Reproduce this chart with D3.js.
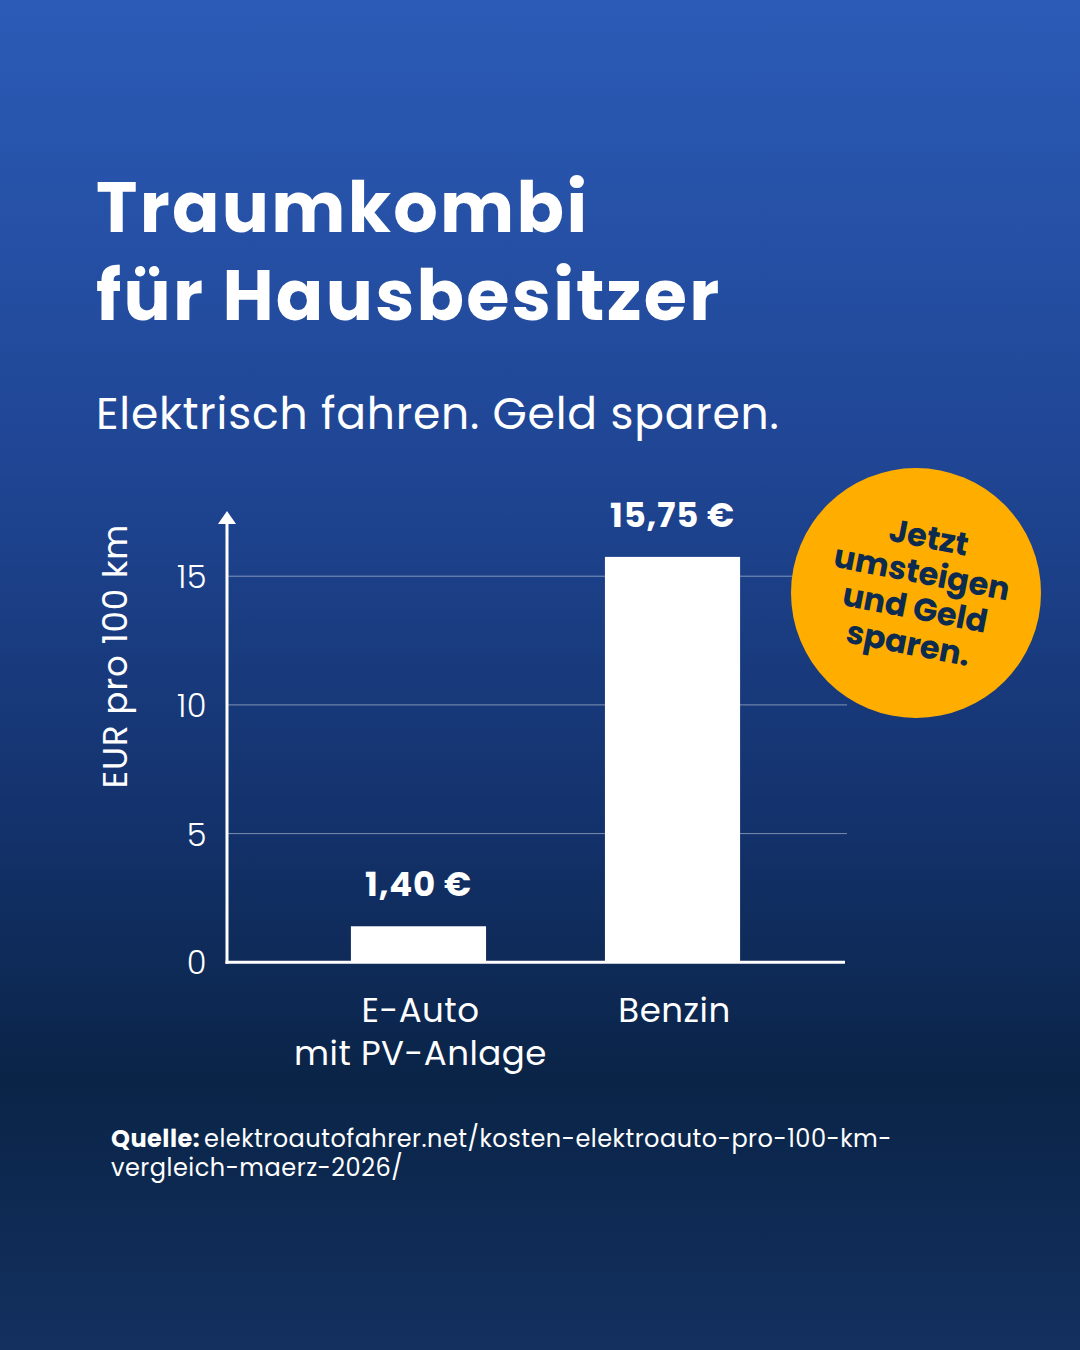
<!DOCTYPE html>
<html>
<head>
<meta charset="utf-8">
<script src="https://cdn.jsdelivr.net/npm/d3@7"></script>
<style>
  html, body { margin: 0; padding: 0; background: #0b2648; }
  svg { display: block; }
</style>
</head>
<body>
<svg id="chart" width="1080" height="1350"></svg>
<script>
// ---- data ----
const categories = ["E-Auto\nmit PV-Anlage", "Benzin"];
const values = [1.40, 15.75];
const valueLabels = ["1,40 €", "15,75 €"];
const yTicks = [0, 5, 10, 15];
const titleLines = ["Traumkombi", "für Hausbesitzer"];
const subtitle = "Elektrisch fahren. Geld sparen.";
const yAxisTitle = "EUR pro 100 km";
const badgeLines = ["Jetzt", "umsteigen", "und Geld", "sparen."];
const sourceBold = "Quelle:";
const sourceLines = ["elektroautofahrer.net/kosten-elektroauto-pro-100-km-", "vergleich-maerz-2026/"];

const FONT = "Poppins, Inter, 'Open Sans', sans-serif";
const W = 1080, H = 1350;
const svg = d3.select("#chart");

// background gradient
const defs = svg.append("defs");
const grad = defs.append("linearGradient").attr("id", "bg").attr("x1", 0).attr("y1", 0).attr("x2", 0).attr("y2", 1);
[[0, "#2b5bb7"], [0.35, "#1f4593"], [0.62, "#13316a"], [0.8, "#0a2447"], [1, "#13305f"]]
  .forEach(([o, c]) => grad.append("stop").attr("offset", o).attr("stop-color", c));
svg.append("rect").attr("width", W).attr("height", H).attr("fill", "url(#bg)");

// title
svg.append("g").selectAll("text").data(titleLines).join("text")
  .attr("x", 96).attr("y", (d, i) => 232 + i * 88)
  .attr("fill", "#fff").attr("font-family", FONT).attr("font-weight", 700)
  .attr("font-size", 70).attr("letter-spacing", 2.3)
  .text(d => d);

svg.append("text").attr("x", 96).attr("y", 429)
  .attr("fill", "#fff").attr("font-family", FONT).attr("font-weight", 400)
  .attr("font-size", 44).attr("letter-spacing", 0.8)
  .text(subtitle);

// scales
const y = d3.scaleLinear().domain([0, 17.3]).range([962.3, 517]);
const x = d3.scaleBand().domain(categories).range([246, 845]).paddingInner(0.468).paddingOuter(0.413);
const axisX0 = 227, axisX1 = 845;

// gridlines
svg.append("g").selectAll("line").data(yTicks.filter(t => t > 0)).join("line")
  .attr("x1", axisX0).attr("x2", 847)
  .attr("y1", d => y(d)).attr("y2", d => y(d))
  .attr("stroke", "rgba(255,255,255,0.45)").attr("stroke-width", 1);

// y axis via d3.axisLeft (tick labels only)
const yAxis = svg.append("g").attr("transform", `translate(${axisX0},0)`)
  .call(d3.axisLeft(y).tickValues(yTicks).tickSize(0).tickPadding(20).tickFormat(d3.format("d")));
yAxis.select(".domain").remove();
yAxis.selectAll("text").attr("fill", "#fff").attr("font-family", FONT).attr("font-weight", 300)
  .attr("font-size", 32).attr("letter-spacing", 0.5).attr("dy", "0.36em");

// bars
svg.append("g").selectAll("rect").data(values).join("rect")
  .attr("x", (d, i) => x(categories[i]))
  .attr("width", x.bandwidth())
  .attr("y", d => y(d))
  .attr("height", d => y(0) - y(d))
  .attr("fill", "#fff");

// value labels
svg.append("g").selectAll("text").data(values).join("text")
  .attr("x", (d, i) => x(categories[i]) + x.bandwidth() / 2)
  .attr("y", d => y(d) - 30)
  .attr("text-anchor", "middle")
  .attr("fill", "#fff").attr("font-family", FONT).attr("font-weight", 700).attr("font-size", 34)
  .attr("letter-spacing", 0.8)
  .text((d, i) => valueLabels[i]);

// axes lines
svg.append("line").attr("x1", axisX0).attr("x2", axisX0).attr("y1", y(0) + 1.5).attr("y2", 522)
  .attr("stroke", "#fff").attr("stroke-width", 3);
svg.append("line").attr("x1", axisX0 - 1.5).attr("x2", axisX1).attr("y1", y(0)).attr("y2", y(0))
  .attr("stroke", "#fff").attr("stroke-width", 3);
svg.append("path").attr("d", `M${axisX0},511 L${axisX0 - 9},524 L${axisX0 + 9},524 Z`).attr("fill", "#fff");

// category labels
const catG = svg.append("g");
categories.forEach(c => {
  const cx = x(c) + x.bandwidth() / 2 + 2;
  c.split("\n").forEach((line, i) => {
    catG.append("text")
      .attr("x", cx).attr("y", 1022 + i * 43)
      .attr("text-anchor", "middle")
      .attr("fill", "#fff").attr("font-family", FONT).attr("font-weight", 400).attr("font-size", 34)
      .attr("letter-spacing", 0.5)
      .text(line);
  });
});

// y axis title
svg.append("text")
  .attr("transform", `translate(127,656) rotate(-90)`)
  .attr("text-anchor", "middle")
  .attr("fill", "#fff").attr("font-family", FONT).attr("font-weight", 400).attr("font-size", 34)
  .attr("letter-spacing", 0.9)
  .text(yAxisTitle);

// badge
const badge = svg.append("g").attr("transform", "translate(916,593)");
badge.append("circle").attr("r", 125).attr("fill", "#ffae00");
const bt = badge.append("g").attr("transform", "rotate(11)");
bt.selectAll("text").data(badgeLines).join("text")
  .attr("x", 2).attr("y", (d, i) => -46 + i * 36)
  .attr("text-anchor", "middle")
  .attr("fill", "#0d2a4f").attr("font-family", FONT).attr("font-weight", 700).attr("font-size", 32)
  .text(d => d);

// source
const src = svg.append("g").attr("font-family", FONT).attr("font-size", 24).attr("fill", "#fff")
  .attr("letter-spacing", 0.5);
src.append("text").attr("x", 111).attr("y", 1147).attr("font-weight", 700).text(sourceBold);
src.append("text").attr("x", 204).attr("y", 1147).attr("font-weight", 400).text(sourceLines[0]);
src.append("text").attr("x", 111).attr("y", 1176).attr("font-weight", 400).text(sourceLines[1]);
</script>
</body>
</html>
